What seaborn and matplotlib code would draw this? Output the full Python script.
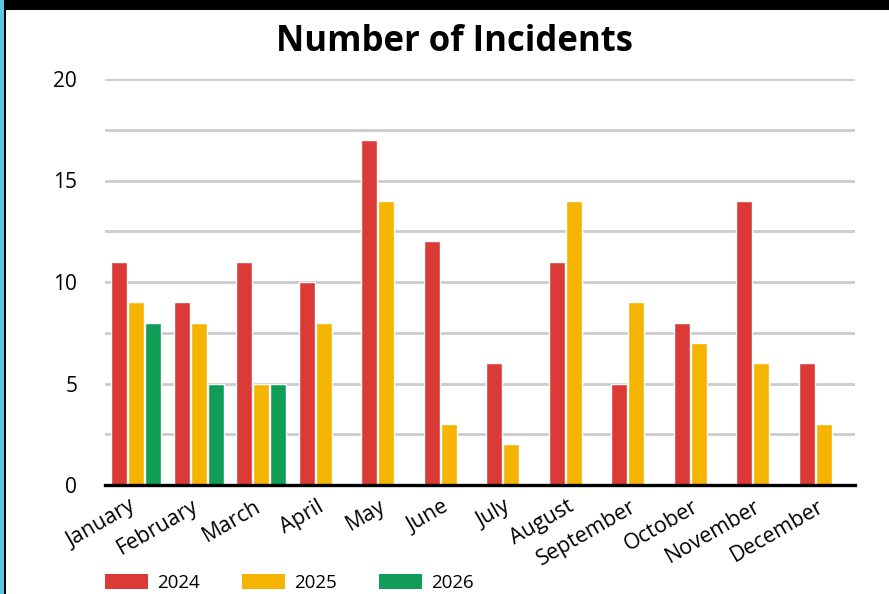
import matplotlib
matplotlib.use("Agg")
import matplotlib.pyplot as plt
import matplotlib.transforms as mtransforms
import seaborn as sns
import pandas as pd
import numpy as np
from matplotlib.patches import Rectangle, Patch

months = ["January", "February", "March", "April", "May", "June", "July",
          "August", "September", "October", "November", "December"]
years = ["2024", "2025", "2026"]
v2024 = [11, 9, 11, 10, 17, 12, 6, 11, 5, 8, 14, 6]
v2025 = [9, 8, 5, 8, 14, 3, 2, 14, 9, 7, 6, 3]
v2026 = [8, 5, 5, np.nan, np.nan, np.nan, np.nan, np.nan, np.nan, np.nan, np.nan, np.nan]
colors = ["#DB3A37", "#F4B400", "#0F9D58"]

rows = []
for y, vals in zip(years, [v2024, v2025, v2026]):
    for m, v in zip(months, vals):
        rows.append({"Month": m, "Year": y, "Incidents": v})
df = pd.DataFrame(rows)

sns.set_theme(style="white")
plt.rcParams['font.family'] = ['Open Sans', 'DejaVu Sans']
plt.rcParams['text.color'] = 'black'
plt.rcParams['xtick.color'] = 'black'
plt.rcParams['ytick.color'] = 'black'
plt.rcParams['xtick.labelcolor'] = 'black'
plt.rcParams['ytick.labelcolor'] = 'black'

fig = plt.figure(figsize=(8.89, 5.94), dpi=100)
ax = fig.add_axes([105/889, 1-485/594, 750/889, (485-79)/594])

sns.barplot(data=df, x="Month", y="Incidents", hue="Year", order=months,
            hue_order=years, palette=colors, width=0.82, gap=0.08,
            saturation=1, ax=ax, legend=False)

ax.set_xlim(-0.5, 11.5)
ax.set_ylim(0, 20)
ax.set_yticks([0, 5, 10, 15, 20])
ax.set_yticks([2.5, 7.5, 12.5, 17.5], minor=True)
ax.grid(axis='y', which='both', color='#cccccc', linewidth=2.0)
ax.set_axisbelow(True)
for s in ["left", "right", "top"]:
    ax.spines[s].set_visible(False)
ax.spines["bottom"].set_color("black")
ax.spines["bottom"].set_linewidth(2.4)
ax.spines["bottom"].set_zorder(5)
ax.set_xlabel("")
ax.set_ylabel("")
ax.tick_params(axis='y', which='both', length=0, pad=20, labelsize=15, labelcolor='black')
ax.tick_params(axis='x', length=0, pad=8, labelsize=15.5, labelcolor='black')
offset = mtransforms.ScaledTranslation(-7/100, 0, fig.dpi_scale_trans)
for lab in ax.get_xticklabels():
    lab.set_rotation(30)
    lab.set_ha('right')
    lab.set_rotation_mode('anchor')
    lab.set_transform(lab.get_transform() + offset)

fig.text(455/889, 1-42/594, "Number of Incidents", ha='center', va='center',
         fontsize=25, fontweight='bold', color='black')

handles = [Patch(facecolor=c, edgecolor='none') for c in colors]
fig.legend(handles, years, loc='upper left', bbox_to_anchor=(97/889, 1-566/594),
           ncol=3, frameon=False, fontsize=13.5, handlelength=2.3,
           handleheight=0.9, handletextpad=0.48, columnspacing=2.25,
           borderaxespad=0, labelcolor='black')

# screenshot frame artifacts
fig.patches.append(Rectangle((0, 1-10/594), 1, 10/594, transform=fig.transFigure,
                             facecolor='black', edgecolor='none', zorder=10))
fig.patches.append(Rectangle((0, 0), 4/889, 1, transform=fig.transFigure,
                             facecolor='#5BC8E0', edgecolor='none', zorder=10))
fig.patches.append(Rectangle((4/889, 0), 2/889, 1, transform=fig.transFigure,
                             facecolor='black', edgecolor='none', zorder=10))

fig.savefig("out.png", dpi=100)
